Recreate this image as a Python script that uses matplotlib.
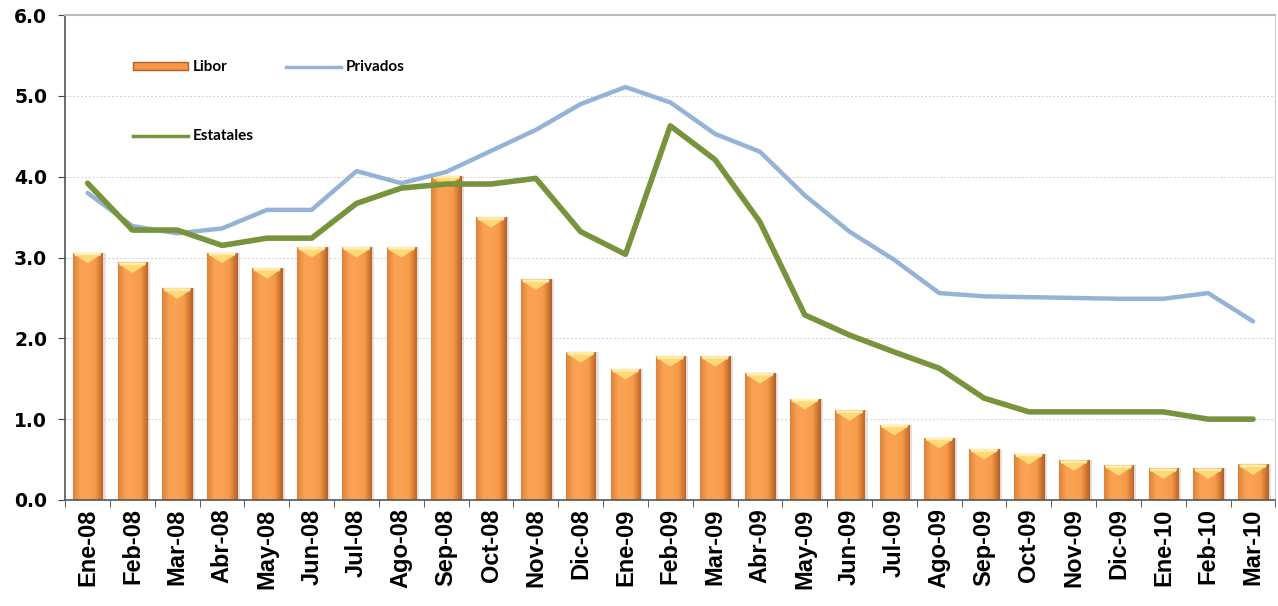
import numpy as np
import matplotlib.pyplot as plt
from matplotlib.colors import LinearSegmentedColormap
from matplotlib.patches import Polygon
from matplotlib.lines import Line2D
from matplotlib.patches import Patch

months = ["Ene-08", "Feb-08", "Mar-08", "Abr-08", "May-08", "Jun-08", "Jul-08",
          "Ago-08", "Sep-08", "Oct-08", "Nov-08", "Dic-08", "Ene-09", "Feb-09",
          "Mar-09", "Abr-09", "May-09", "Jun-09", "Jul-09", "Ago-09", "Sep-09",
          "Oct-09", "Nov-09", "Dic-09", "Ene-10", "Feb-10", "Mar-10"]

libor = [3.06, 2.94, 2.62, 3.06, 2.87, 3.13, 3.13, 3.13, 4.01, 3.50, 2.73,
         1.83, 1.62, 1.78, 1.78, 1.57, 1.25, 1.11, 0.93, 0.77, 0.63, 0.57,
         0.49, 0.43, 0.39, 0.39, 0.44]

privados = [3.80, 3.39, 3.30, 3.36, 3.59, 3.59, 4.07, 3.92, 4.06, 4.32, 4.58,
            4.90, 5.11, 4.92, 4.53, 4.31, 3.77, 3.32, 2.97, 2.56, 2.52, 2.51,
            2.50, 2.49, 2.49, 2.56, 2.21]

estatales = [3.92, 3.34, 3.34, 3.15, 3.24, 3.24, 3.67, 3.86, 3.91, 3.91, 3.98,
             3.32, 3.04, 4.63, 4.21, 3.44, 2.29, 2.04, 1.83, 1.63, 1.26, 1.09,
             1.09, 1.09, 1.09, 1.00, 1.00]

orange = "#F79646"
blue = "#95B3D7"
green = "#77933C"

fig = plt.figure(figsize=(12.78, 6.06), dpi=100)
ax = fig.add_axes([0.051, 0.175, 0.947, 0.80])

x = np.arange(len(months))
w = 0.66

# shadow behind bars
ax.bar(x + 0.07, libor, width=w, color="#b0b0b0", alpha=0.35, zorder=1)
bars = ax.bar(x, libor, width=w, color=orange, edgecolor="#B0602A",
              linewidth=0.8, zorder=2)

# horizontal gradient inside each bar
cmap = LinearSegmentedColormap.from_list(
    "bar", ["#D9853C", "#FBA252", "#FBA252", "#F59B4A", "#C06628"])
grad = np.linspace(0, 1, 64).reshape(1, -1)
for b in bars:
    bx, bw, bh = b.get_x(), b.get_width(), b.get_height()
    im = ax.imshow(grad, cmap=cmap, aspect="auto", zorder=2.5,
                   extent=[bx, bx + bw, 0, bh])
    im.set_clip_path(b)
    d = 0.13
    band = Polygon([[bx + 0.02, bh], [bx + bw - 0.02, bh],
                    [bx + bw - 0.05, bh - 0.04], [bx + 0.05, bh - 0.04]],
                   closed=True, facecolor="#FFF0B0", edgecolor="none",
                   zorder=3)
    ax.add_patch(band)
    top = Polygon([[bx + 0.05, bh - 0.03], [bx + bw - 0.05, bh - 0.03],
                   [bx + bw / 2, bh - d]],
                  closed=True, facecolor="#FFD978", edgecolor="none",
                  zorder=3)
    ax.add_patch(top)

ax.plot(x, privados, color=blue, linewidth=3.2, zorder=4,
        solid_capstyle="round", solid_joinstyle="round")
ax.plot(x, estatales, color=green, linewidth=4.0, zorder=5,
        solid_capstyle="round", solid_joinstyle="round")

ax.set_xlim(-0.5, len(months) - 0.5)
ax.set_ylim(0, 6)
ax.set_yticks(np.arange(0, 6.1, 1.0))
ax.set_yticklabels([f"{v:.1f}" for v in np.arange(0, 6.1, 1.0)],
                   fontsize=13.5, fontweight="bold", family="DejaVu Sans")
ax.set_xticks(x)
ax.set_xticklabels(months, rotation=90, fontsize=17, fontweight="bold",
                   family="Liberation Sans")
ax.tick_params(axis="x", which="major", length=0, pad=6)
ax.set_xticks(np.arange(-0.5, len(months), 1.0), minor=True)
ax.tick_params(axis="x", which="minor", length=5, color="#444444")
ax.tick_params(axis="y", length=5, color="#444444", pad=8)

for v in range(1, 6):
    ax.axhline(v, color="#d0d0d0", linewidth=0.7, linestyle=(0, (2, 2)), zorder=0)

ax.spines["left"].set_color("#555555")
ax.spines["bottom"].set_color("#555555")
ax.spines["left"].set_linewidth(1.2)
ax.spines["bottom"].set_linewidth(1.2)
ax.spines["top"].set_color("#bbbbbb")
ax.spines["right"].set_color("#cccccc")
ax.spines["top"].set_linewidth(1.5)

handles = [Patch(facecolor=orange, edgecolor="#B0602A"),
           Line2D([], [], color=green, linewidth=2.5),
           Line2D([], [], color=blue, linewidth=2.5)]
labels = ["Libor", "Estatales", "Privados"]
ax.legend(handles, labels, ncol=2, loc="upper left",
          bbox_to_anchor=(0.045, 0.935), frameon=False,
          prop={"family": "Lato", "weight": "bold", "size": 11},
          labelspacing=3.6, columnspacing=2.1, handlelength=3.6,
          handleheight=0.5, handletextpad=0.3)

fig.savefig("out.png", dpi=100)
